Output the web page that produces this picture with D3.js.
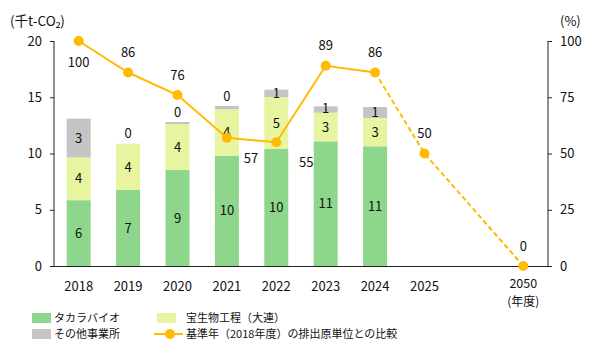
<!DOCTYPE html>
<html><head><meta charset="utf-8">
<script src="https://cdn.jsdelivr.net/npm/d3@7"></script>
<style>body{margin:0;background:#fff}text{font-family:"Noto Sans CJK JP","Noto Sans",sans-serif;fill:#111}</style>
</head><body>
<svg id="c" width="600" height="356"></svg>
<script>
const categories = ["2018","2019","2020","2021","2022","2023","2024","2025","","2050"];
const takara   = [5.85, 6.76, 8.53, 9.8, 10.4, 11.08, 10.64, null, null, null];
const dalian   = [3.8, 4.08, 4.09, 4.13, 4.62, 2.55, 2.52, null, null, null];
const other    = [3.45, 0.02, 0.18, 0.29, 0.65, 0.56, 0.97, null, null, null];
const takaraLbl = ["6","7","9","10","10","11","11"];
const dalianLbl = ["4","4","4","4","5","3","3"];
const otherLbl  = ["3","0","0","0","1","1","1"];
const ratio = [100, 86, 76, 57, 55, 89, 86, 50, null, 0];
const leftTicks = [0,5,10,15,20];
const rightTicks = [0,25,50,75,100];

const svg = d3.select("#c");
const x = d3.scaleBand().domain(categories.map((d,i)=>i)).range([54,548]).paddingInner(0.5).paddingOuter(0.25);
const yL = d3.scaleLinear().domain([0,20]).range([266,41]);
const yR = d3.scaleLinear().domain([0,100]).range([266,41]);
const cx = i => x(i) + x.bandwidth()/2;
const colors = {t:"#8dd68b", d:"#e7f5a0", o:"#c4c4c4", line:"#ffbb00"};

// bars
const bw = 24;
takara.forEach((v,i)=>{
  if(v==null) return;
  const segs = [[0,v,colors.t,takaraLbl[i]],[v,v+dalian[i],colors.d,dalianLbl[i]],[v+dalian[i],v+dalian[i]+other[i],colors.o,otherLbl[i]]];
  segs.forEach(([a,b,c,l],k)=>{
    svg.append("rect").attr("x",cx(i)-bw/2).attr("width",bw).attr("y",yL(b)).attr("height",yL(a)-yL(b)).attr("fill",c);
    let ly;
    if(k===2 && (b-a)<0.5 && i!==5){ ly = yL(b)-10; }
    else if(k===2 && i===5){ ly = (yL(a)+yL(b))/2 - 1; }
    else ly = (yL(a)+yL(b))/2;
    svg.append("text").attr("x",cx(i)).attr("y",ly).attr("dy","0.35em").attr("text-anchor","middle").attr("font-size",13).text(l);
  });
});

// axes
const gL = svg.append("g").attr("transform","translate(54,0)").call(d3.axisLeft(yL).tickValues(leftTicks).tickSize(4).tickPadding(8));
const gR = svg.append("g").attr("transform","translate(548,0)").call(d3.axisRight(yR).tickValues(rightTicks).tickSize(4).tickPadding(8));
[gL,gR].forEach(g=>{g.selectAll("path,line").attr("stroke","#222");g.selectAll("text").attr("font-size",13).attr("fill","#111").style("font-family",'"Noto Sans CJK JP",sans-serif');});
gL.select(".domain").attr("d","M0,41V266");
gR.select(".domain").attr("d","M0,41V266");
svg.append("line").attr("x1",54).attr("x2",548).attr("y1",266.5).attr("y2",266.5).attr("stroke","#222");
categories.forEach((c,i)=>{
  if(!c) return;
  svg.append("text").attr("x",cx(i)).attr("y",i===9?284:286).attr("dy","0.35em").attr("text-anchor","middle").attr("font-size",i===9?12.5:13).text(c);
});
svg.append("text").attr("x",cx(9)).attr("y",302).attr("dy","0.35em").attr("text-anchor","middle").attr("font-size",12).text("(年度)");
svg.append("text").attr("x",10).attr("y",21).attr("dy","0.35em").attr("font-size",13.5).text("(千t-CO₂)");
svg.append("text").attr("x",560).attr("y",21).attr("dy","0.35em").attr("font-size",13).text("(%)");

// line
const pts = ratio.map((v,i)=>v==null?null:[cx(i),yR(v),v]).filter(d=>d);
const line = d3.line().x(d=>d[0]).y(d=>d[1]);
svg.append("path").attr("d",line(pts.slice(0,7))).attr("fill","none").attr("stroke",colors.line).attr("stroke-width",2);
svg.append("path").attr("d",line(pts.slice(6))).attr("fill","none").attr("stroke",colors.line).attr("stroke-width",2).attr("stroke-dasharray","5,3");
pts.forEach(p=>svg.append("circle").attr("cx",p[0]).attr("cy",p[1]).attr("r",5).attr("fill",colors.line));
const off = [[0,21],[0,-20],[0,-20],[24,21],[30,20],[0,-20],[0,-20],[0,-20],null,[0,-20]];
ratio.forEach((v,i)=>{ if(v==null) return;
  svg.append("text").attr("x",cx(i)+off[i][0]).attr("y",yR(v)+off[i][1]).attr("dy","0.35em").attr("text-anchor","middle").attr("font-size",13).text(v);
});

// legend
const lg = [[32,318,"sq",colors.t,"タカラバイオ"],[157,318,"sq",colors.d,"宝生物工程（大連）"],[32,334,"sq",colors.o,"その他事業所"],[157,334,"ln",colors.line,"基準年（2018年度）の排出原単位との比較"]];
lg.forEach(([lx,ly,t,c,s])=>{
  if(t==="sq") svg.append("rect").attr("x",lx).attr("y",ly-5).attr("width",19).attr("height",10).attr("fill",c);
  else { svg.append("line").attr("x1",lx-3).attr("x2",lx+26).attr("y1",ly).attr("y2",ly).attr("stroke",c).attr("stroke-width",2);
         svg.append("circle").attr("cx",lx+13).attr("cy",ly).attr("r",5).attr("fill",c); }
  svg.append("text").attr("x",lx+(lx>100?29:22)).attr("y",ly).attr("dy","0.35em").attr("font-size",11).text(s);
});
</script>
</body></html>
